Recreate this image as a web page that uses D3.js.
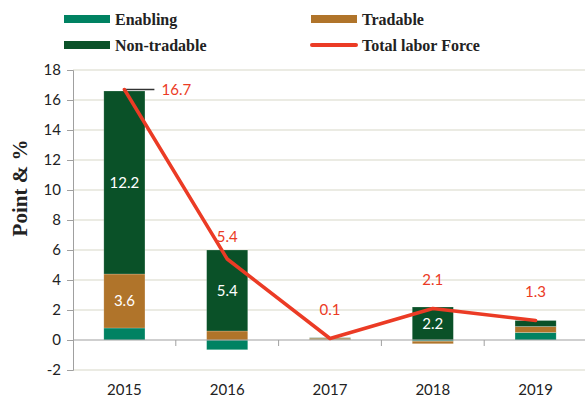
<!DOCTYPE html>
<html>
<head>
<meta charset="utf-8">
<script src="https://cdn.jsdelivr.net/npm/d3@7"></script>
<style>
    body { margin: 0; background: #fff; }
    svg { display: block; }
</style>
</head>
<body>
<div id="chart"></div>
<script>
// chart data
const years = ['2015', '2016', '2017', '2018', '2019'];
const enabling = [0.8, -0.65, 0.03, -0.08, 0.5];
const tradable = [3.6, 0.6, 0.09, -0.17, 0.4];
const nonTradable = [12.2, 5.4, 0.03, 2.2, 0.4];
const totalLabor = [16.7, 5.4, 0.1, 2.1, 1.3];
const barLabels = [['', '3.6', '12.2'], ['', '', '5.4'], ['', '', ''], ['', '', '2.2'], ['', '', '']];
const yTicks = [-2, 0, 2, 4, 6, 8, 10, 12, 14, 16, 18];

const width = 585,
    height = 401,
    margin = {top: 70, right: -2, bottom: 31, left: 73};

const colors = ['#008262', '#B0742A', '#0A5128'],
    lineColor = '#EB3B25';

const svg = d3.select('#chart').append('svg')
    .attr('width', width)
    .attr('height', height);

const x = d3.scaleBand()
    .domain(years)
    .range([margin.left, width - margin.right])
    .paddingInner(0.6)
    .paddingOuter(0.3);

const y = d3.scaleLinear()
    .domain([-2, 18])
    .range([370, 70]);

// gridlines
svg.append('g')
    .selectAll('line')
    .data(yTicks.filter(d => d !== 0))
    .join('line')
    .attr('x1', margin.left)
    .attr('x2', width)
    .attr('y1', d => y(d))
    .attr('y2', d => y(d))
    .attr('stroke', '#E4E4DA')
    .attr('stroke-width', 1.5);

// y axis
const yAxis = svg.append('g')
    .attr('transform', 'translate(' + margin.left + ',0)')
    .call(d3.axisLeft(y).tickValues(yTicks).tickFormat(d => String(d)).tickSize(6).tickPadding(6));
yAxis.select('.domain').attr('stroke', '#A0A0A0');
yAxis.selectAll('.tick line').attr('stroke', '#A0A0A0');
yAxis.selectAll('text')
    .attr('font-family', 'Lato, sans-serif')
    .attr('font-size', 15)
    .attr('fill', '#222');

// stacked bars (positive and negative stacks separately)
const series = [enabling, tradable, nonTradable];
const stacked = years.map((yr, i) => {
    let pos = 0, neg = 0;
    return series.map((s, k) => {
        const v = s[i];
        let y0, y1;
        if (v >= 0) { y0 = pos; y1 = pos + v; pos = y1; }
        else { y0 = neg; y1 = neg + v; neg = y1; }
        return {year: yr, k: k, y0: y0, y1: y1, label: barLabels[i][k]};
    });
});

const bars = svg.append('g');
stacked.forEach(segs => {
    bars.selectAll(null)
        .data(segs)
        .join('rect')
        .attr('x', d => x(d.year))
        .attr('width', x.bandwidth())
        .attr('y', d => y(Math.max(d.y0, d.y1)))
        .attr('height', d => Math.abs(y(d.y0) - y(d.y1)))
        .attr('fill', d => colors[d.k])
        .attr('stroke', 'rgba(255,255,255,0.35)')
        .attr('stroke-width', 0.6);

    bars.selectAll(null)
        .data(segs.filter(d => d.label))
        .join('text')
        .attr('x', d => x(d.year) + x.bandwidth() / 2)
        .attr('y', d => y((d.y0 + d.y1) / 2))
        .attr('dy', '0.35em')
        .attr('text-anchor', 'middle')
        .attr('font-family', 'Lato, sans-serif')
        .attr('font-size', 15)
        .attr('fill', '#fff')
        .text(d => d.label);
});

// x axis at zero
svg.append('line')
    .attr('x1', margin.left)
    .attr('x2', width)
    .attr('y1', y(0))
    .attr('y2', y(0))
    .attr('stroke', '#A0A0A0')
    .attr('stroke-width', 1.2);

const step = x.step();
svg.append('g')
    .selectAll('line')
    .data(years.slice(1))
    .join('line')
    .attr('x1', d => x(d) + x.bandwidth() / 2 - step / 2)
    .attr('x2', d => x(d) + x.bandwidth() / 2 - step / 2)
    .attr('y1', y(0))
    .attr('y2', y(0) + 6)
    .attr('stroke', '#A0A0A0');

svg.append('g')
    .selectAll('text')
    .data(years)
    .join('text')
    .attr('x', d => x(d) + x.bandwidth() / 2)
    .attr('y', 395)
    .attr('text-anchor', 'middle')
    .attr('font-family', 'Lato, sans-serif')
    .attr('font-size', 15)
    .attr('fill', '#222')
    .text(d => d);

// total labor force line
const cx = d => x(d) + x.bandwidth() / 2;
const line = d3.line()
    .x((d, i) => cx(years[i]))
    .y(d => y(d));

// leader line on first point
svg.append('line')
    .attr('x1', cx(years[0]))
    .attr('x2', cx(years[0]) + 30)
    .attr('y1', y(totalLabor[0]))
    .attr('y2', y(totalLabor[0]))
    .attr('stroke', '#333')
    .attr('stroke-width', 1.5);

svg.append('path')
    .datum(totalLabor)
    .attr('d', line)
    .attr('fill', 'none')
    .attr('stroke', lineColor)
    .attr('stroke-width', 3.5)
    .attr('stroke-linecap', 'round')
    .attr('stroke-linejoin', 'round');

svg.append('g')
    .selectAll('text')
    .data(totalLabor)
    .join('text')
    .attr('x', (d, i) => i === 0 ? cx(years[i]) + 52 : cx(years[i]))
    .attr('y', (d, i) => i === 0 ? y(d) : i === 1 ? y(d) - 22 : y(d) - 29)
    .attr('dy', '0.35em')
    .attr('text-anchor', 'middle')
    .attr('font-family', 'Lato, sans-serif')
    .attr('font-size', 15)
    .attr('fill', lineColor)
    .text(d => d.toFixed(1));

// y axis title
svg.append('text')
    .attr('transform', 'translate(27,' + 188 + ') rotate(-90)')
    .attr('text-anchor', 'middle')
    .attr('font-family', '"Liberation Serif", serif')
    .attr('font-weight', 'bold')
    .attr('font-size', 21)
    .attr('fill', '#222')
    .text('Point & %');

// legend
const legendItems = [
    {name: 'Enabling', color: colors[0], type: 'rect', x: 64, y: 19},
    {name: 'Tradable', color: colors[1], type: 'rect', x: 311, y: 19},
    {name: 'Non-tradable', color: colors[2], type: 'rect', x: 64, y: 45},
    {name: 'Total labor Force', color: lineColor, type: 'line', x: 311, y: 45}
];
const legend = svg.append('g');
legendItems.forEach(d => {
    if (d.type === 'rect') {
        legend.append('rect')
            .attr('x', d.x).attr('y', d.y - 4)
            .attr('width', 46).attr('height', 8)
            .attr('fill', d.color);
    } else {
        legend.append('line')
            .attr('x1', d.x + 1).attr('x2', d.x + 45)
            .attr('y1', d.y).attr('y2', d.y)
            .attr('stroke', d.color)
            .attr('stroke-width', 4)
            .attr('stroke-linecap', 'round');
    }
    legend.append('text')
        .attr('x', d.x + 51)
        .attr('y', d.y)
        .attr('dy', '0.35em')
        .attr('font-family', '"Liberation Serif", serif')
        .attr('font-weight', 'bold')
        .attr('font-size', 16)
        .attr('fill', '#222')
        .text(d.name);
});
</script>
</body>
</html>
